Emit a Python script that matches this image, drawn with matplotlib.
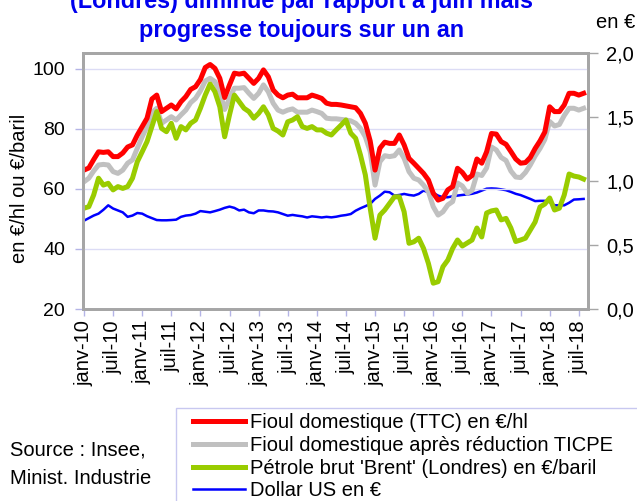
import matplotlib
matplotlib.use("Agg")
import matplotlib.pyplot as plt
from matplotlib.patches import Rectangle
from matplotlib.lines import Line2D

plt.rcParams['font.family'] = ['Liberation Sans', 'DejaVu Sans']

tick_labels = ["janv-10", "juil-10", "janv-11", "juil-11", "janv-12", "juil-12",
               "janv-13", "juil-13", "janv-14", "juil-14", "janv-15", "juil-15",
               "janv-16", "juil-16", "janv-17", "juil-17", "janv-18", "juil-18"]

fioul_ttc = [66.3, 67.0, 69.8, 72.4, 72.2, 72.4, 70.8, 70.8, 72.0, 74.0,
             74.7, 78.0, 80.8, 83.6, 90.0, 91.3, 85.8, 86.9, 88.0, 86.7,
             89.1, 90.8, 93.2, 94.1, 96.5, 100.5, 101.5, 100.2, 96.9, 90.5,
             94.7, 98.6, 98.3, 98.6, 96.9, 95.2, 96.9, 99.7, 97.4, 93.0,
             91.3, 90.4, 91.3, 91.6, 90.4, 90.4, 90.4, 91.3, 90.8, 90.2,
             88.6, 88.2, 88.2, 88.0, 87.7, 87.4, 87.1, 85.2, 81.9, 76.0,
             66.3, 73.6, 75.6, 75.2, 75.2, 78.0, 74.7, 70.2, 68.6, 66.9,
             65.2, 63.0, 58.6, 56.3, 56.9, 59.7, 60.8, 66.9, 65.5, 63.3,
             64.5, 70.0, 68.6, 72.4, 78.5, 78.3, 75.8, 74.9, 72.5, 70.0,
             68.6, 68.8, 70.5, 73.5, 76.0, 79.0, 87.4, 85.8, 85.8, 88.0,
             91.9, 91.9, 91.3, 91.9]

fioul_ticpe = [62.4, 63.6, 66.0, 68.0, 68.2, 68.0, 65.8, 65.2, 66.3, 68.6,
               69.7, 73.6, 77.4, 80.8, 85.5, 86.9, 81.9, 83.0, 84.1, 83.0,
               84.7, 86.3, 88.8, 90.2, 92.7, 96.0, 96.9, 95.8, 92.4, 86.5,
               90.2, 93.6, 93.6, 93.8, 91.9, 90.2, 91.9, 94.7, 92.4, 88.6,
               86.3, 85.6, 86.3, 86.7, 85.6, 85.6, 85.6, 86.3, 85.8, 85.2,
               83.6, 83.4, 83.4, 83.2, 83.0, 82.7, 81.9, 80.2, 77.4, 72.5,
               61.3, 69.1, 71.1, 70.8, 71.1, 73.0, 70.2, 65.8, 63.6, 63.0,
               61.3, 59.1, 54.1, 51.3, 52.4, 54.7, 55.8, 62.0, 61.0, 58.6,
               59.5, 65.0, 64.5, 67.0, 74.0, 73.0, 70.5, 69.5, 66.0, 64.0,
               63.8, 65.5, 68.0, 71.0, 73.5, 76.5, 82.5, 81.0, 81.5, 84.5,
               86.9, 86.9, 86.3, 86.9]

brent = [53.6, 54.1, 58.0, 63.6, 61.3, 61.9, 59.7, 60.8, 60.2, 60.8,
         63.6, 69.1, 72.4, 75.8, 80.8, 85.8, 80.2, 79.1, 81.9, 76.9,
         80.8, 79.7, 81.9, 83.0, 86.9, 91.3, 95.0, 92.4, 87.4, 77.4,
         84.7, 91.3, 89.1, 86.9, 85.8, 83.6, 85.2, 87.4, 84.7, 80.2,
         79.3, 78.0, 82.4, 83.0, 84.1, 80.8, 80.2, 80.8, 79.7, 79.7,
         78.6, 78.0, 79.7, 81.3, 83.0, 78.6, 76.9, 71.3, 64.7, 53.6,
         43.6, 51.3, 53.0, 55.2, 57.4, 57.4, 52.4, 41.9, 42.4, 43.6,
         40.2, 35.2, 28.6, 29.1, 34.1, 36.3, 40.2, 43.0, 41.0, 42.0,
         43.0, 47.0, 44.0, 52.0, 52.7, 53.0, 49.7, 50.2, 47.0, 42.5,
         43.0, 43.6, 46.3, 49.0, 54.0, 55.0, 57.0, 53.0, 53.6, 58.0,
         65.0, 64.3, 64.0, 63.3]

dollar = [0.69, 0.71, 0.73, 0.745, 0.775, 0.81, 0.785, 0.77, 0.755, 0.72,
          0.73, 0.75, 0.745, 0.725, 0.71, 0.695, 0.693, 0.693, 0.695, 0.698,
          0.72, 0.73, 0.734, 0.745, 0.765, 0.76, 0.755, 0.765, 0.776, 0.79,
          0.80, 0.79, 0.77, 0.776, 0.755, 0.748, 0.77, 0.77, 0.764, 0.762,
          0.755, 0.742, 0.729, 0.735, 0.729, 0.724, 0.715, 0.724, 0.72, 0.715,
          0.72, 0.716, 0.721, 0.729, 0.734, 0.742, 0.768, 0.787, 0.803, 0.821,
          0.86, 0.886, 0.917, 0.912, 0.886, 0.891, 0.899, 0.891, 0.886, 0.899,
          0.925, 0.912, 0.907, 0.886, 0.873, 0.873, 0.881, 0.886, 0.891, 0.895,
          0.90, 0.91, 0.925, 0.94, 0.942, 0.94, 0.935, 0.928, 0.915, 0.90,
          0.89, 0.875, 0.86, 0.843, 0.845, 0.845, 0.835, 0.81, 0.81, 0.81,
          0.83, 0.855, 0.857, 0.86]

labels = ["Fioul domestique (TTC) en €/hl",
          "Fioul domestique après réduction TICPE",
          "Pétrole brut 'Brent' (Londres) en €/baril",
          "Dollar US en €"]
colors = ["#ff0000", "#c0c0c0", "#99cc00", "#0000ff"]

W, H = 637, 501
fig = plt.figure(figsize=(W / 100, H / 100), dpi=100)
ax = fig.add_axes([83 / W, 1 - 309 / H, (588 - 83) / W, (309 - 53) / H])
ax2 = ax.twinx()
ax.set_zorder(ax2.get_zorder() + 1)
ax.patch.set_visible(False)

x = list(range(len(fioul_ttc)))
ax2.plot(x, dollar, color=colors[3], lw=1.8, solid_joinstyle='round')
ax.plot(x, fioul_ticpe, color=colors[1], lw=3.6, solid_joinstyle='round')
ax.plot(x, fioul_ttc, color=colors[0], lw=3.6, solid_joinstyle='round')
ax.plot(x, brent, color=colors[2], lw=3.6, solid_joinstyle='round')

ax.set_xlim(-0.2, 103.9)
ax.set_ylim(20, 105.33)
ax2.set_ylim(0, 2.0)

ax.set_yticks([20, 40, 60, 80, 100])
ax.set_yticklabels(["20", "40", "60", "80", "100"])
ax2.set_yticks([0, 0.5, 1.0, 1.5, 2.0])
ax2.set_yticklabels(["0,0", "0,5", "1,0", "1,5", "2,0"])
ax.set_xticks(list(range(0, 104, 6)))
ax.set_xticklabels(tick_labels, rotation=90, va='top', ha='center')

ax.grid(axis='y', color='#dcdcf5', lw=1)
ax.set_axisbelow(True)

for a in (ax, ax2):
    for s in a.spines.values():
        s.set_color('#a6a6a6')
        s.set_linewidth(2)
ax.tick_params(axis='y', direction='out', length=6, width=1, color='#b4b4e6',
               labelsize=14, pad=7, labelcolor='black')
ax.tick_params(axis='x', direction='out', length=5, width=1, color='#b4b4e6',
               labelsize=14.5, pad=3)
ax2.tick_params(axis='y', direction='out', length=7, width=1, color='#a6a6a6',
                labelsize=14.5, pad=6)

fig.text(20 / W, 1 - 188 / H, "en €/hl ou €/baril", rotation=90,
         ha='center', va='center', fontsize=14.5)
fig.text(616 / W, 1 - 23 / H, "en €", ha='center', va='center', fontsize=14.5)

fig.text(302 / W, 1 - 8 / H, "(Londres) diminue par rapport à juin mais",
         ha='center', va='baseline', fontsize=16.8, fontweight='bold',
         color='#0000ee')
fig.text(302 / W, 1 - 37 / H, "progresse toujours sur un an",
         ha='center', va='baseline', fontsize=16.8, fontweight='bold',
         color='#0000ee')

fig.text(10 / W, 1 - 450 / H, "Source : Insee,", ha='left', va='center',
         fontsize=14.5)
fig.text(10 / W, 1 - 478 / H, "Minist. Industrie", ha='left', va='center',
         fontsize=14.5)

handles = [Line2D([], [], color=colors[0], lw=3.6),
           Line2D([], [], color=colors[1], lw=3.6),
           Line2D([], [], color=colors[2], lw=3.6),
           Line2D([], [], color=colors[3], lw=1.8)]
fig.legend(handles, labels, loc='upper left',
           bbox_to_anchor=(193 / W, 1 - 413 / H), frameon=False,
           fontsize=14.5, borderpad=0, borderaxespad=0, labelspacing=0.19,
           handlelength=2.6, handletextpad=0.25)
fig.patches.append(Rectangle((176 / W, -0.1), 1.0, 1 - 408 / H + 0.1,
                             transform=fig.transFigure, fill=False,
                             edgecolor='#c8c8f0', lw=1))

fig.savefig("out.png", dpi=100)
